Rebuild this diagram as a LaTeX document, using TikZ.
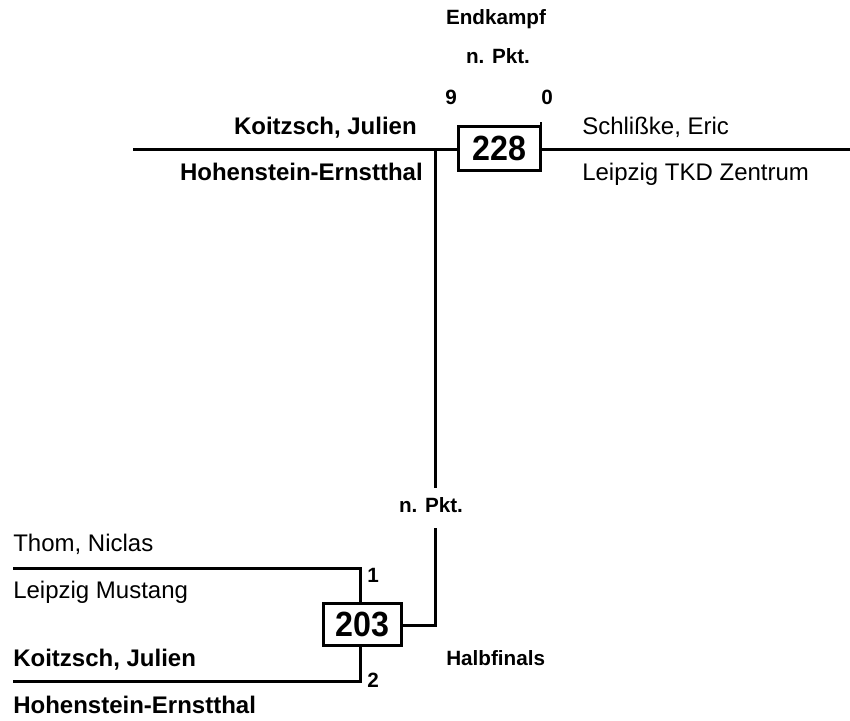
\documentclass[tikz,border=0pt]{standalone}
\usepackage{fontspec}
\setmainfont{Liberation Sans}
\newfontfamily\boxfont{Liberation Sans}[FakeStretch=0.92]
\begin{document}
\begin{tikzpicture}[x=0.75pt,y=-0.75pt,
  ln/.style={line width=2.25pt},
  plainlbl/.style={inner sep=0pt,font=\fontsize{18}{20}\selectfont},
  boldlbl/.style={inner sep=0pt,font=\fontsize{18}{20}\selectfont\bfseries},
  smalllbl/.style={inner sep=0pt,font=\fontsize{15.5}{17}\selectfont\bfseries,anchor=base},
  fightbox/.style={draw,line width=2.25pt,inner sep=0pt,font=\boxfont\fontsize{26.25}{30}\selectfont\bfseries}]
\useasboundingbox (0,0) rectangle (850,721);
% final
\node[fightbox,minimum width=61.5pt,minimum height=33pt] (f228) at (499.5,148.5) {228};
\coordinate (tl) at (133,149);
\coordinate (tr) at (850,149);
\coordinate (tj) at (435,149);
\coordinate (ta) at (435,488);
\coordinate (tb) at (435,528);
\coordinate (tc) at (435,625);
\coordinate (tk) at (541,122);
\draw[ln] (tl) -- (tl -| f228.west);
\draw[ln] (tr -| f228.east) -- (tr);
\draw[ln] (tj) -- (ta);
\draw[line width=1.5pt] (tk) -- (tk |- f228.north);
% semi final
\node[fightbox,minimum width=58.5pt,minimum height=31.5pt] (f203) at (362.5,624.5) {203};
\draw[ln] (tb) -- (tc) -- (tc -| f203.east);
\coordinate (u1) at (13,568);
\coordinate (u2) at (360,568);
\coordinate (l1) at (13,681);
\coordinate (l2) at (360,681);
\draw[ln] (u1) -- (u2) -- (u2 |- f203.north);
\draw[ln] (l2 |- f203.south) -- (l2) -- (l1);
% labels top
\node[smalllbl] (ek) at (496,24) {Endkampf};
\node[smalllbl] (np1) at (498,63) {n. Pkt.};
\node[smalllbl] (s9) at (451,104) {9};
\node[smalllbl] (s0) at (547,104) {0};
\node[boldlbl,anchor=base east] (k1) at (417,134) {Koitzsch, Julien};
\node[boldlbl,anchor=base east] (h1) at (423,180) {Hohenstein-Ernstthal};
\node[plainlbl,anchor=base west] (se) at (582,134) {Schlißke, Eric};
\node[plainlbl,anchor=base west] (lz) at (582,180) {Leipzig TKD Zentrum};
% labels bottom
\node[smalllbl] (np2) at (431,512) {n. Pkt.};
\node[plainlbl,anchor=base west] (tn) at (13,551) {Thom, Niclas};
\node[plainlbl,anchor=base west] (lm) at (13,598) {Leipzig Mustang};
\node[boldlbl,anchor=base west] (k2) at (13,666) {Koitzsch, Julien};
\node[boldlbl,anchor=base west] (h2) at (13,713) {Hohenstein-Ernstthal};
\node[smalllbl] (s1) at (373,582) {1};
\node[smalllbl] (s2) at (373,687) {2};
\node[smalllbl,anchor=base west] (hf) at (446,665) {Halbfinals};
\end{tikzpicture}
\end{document}
